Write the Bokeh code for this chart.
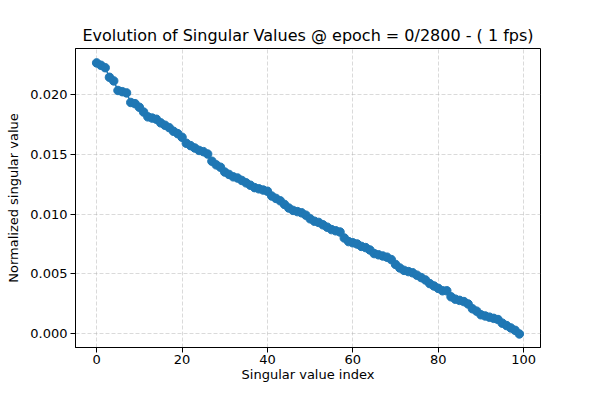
from bokeh.plotting import figure
from bokeh.models import Range1d, FixedTicker, NumeralTickFormatter
from bokeh.embed import file_html
from bokeh.resources import INLINE

title_text = "Evolution of Singular Values @ epoch = 0/2800 - ( 1 fps)"
x_label = "Singular value index"
y_label = "Normalized singular value"

indices = list(range(100))
values = [
    0.0226, 0.0224, 0.0222, 0.0214, 0.0211, 0.0203, 0.0202, 0.0201, 0.0193, 0.0192,
    0.0189, 0.0185, 0.0181, 0.0180, 0.0179, 0.0176, 0.0174, 0.0172, 0.0169, 0.0167,
    0.0164, 0.0159, 0.0157, 0.0155, 0.0153, 0.0152, 0.0150, 0.0144, 0.0141, 0.0139,
    0.0135, 0.0133, 0.0131, 0.0130, 0.0128, 0.0126, 0.0124, 0.0122, 0.0121, 0.0120,
    0.0119, 0.0115, 0.0113, 0.0111, 0.0108, 0.0105, 0.0103, 0.0102, 0.0101, 0.0099,
    0.0096, 0.0094, 0.0093, 0.0091, 0.0089, 0.0087, 0.0086, 0.0085, 0.0080, 0.0077,
    0.0076, 0.0075, 0.0073, 0.0072, 0.0070, 0.0067, 0.0066, 0.0065, 0.0064, 0.0062,
    0.0058, 0.0055, 0.0053, 0.0052, 0.0051, 0.0049, 0.0047, 0.0045, 0.0042, 0.0040,
    0.0038, 0.0036, 0.0036, 0.0031, 0.0029, 0.0028, 0.0027, 0.0025, 0.0021, 0.0019,
    0.0016, 0.0015, 0.0014, 0.0013, 0.0012, 0.0009, 0.0007, 0.0005, 0.0003, 0.0000,
]
x_ticks = [0, 20, 40, 60, 80, 100]
y_ticks = [0.0, 0.005, 0.010, 0.015, 0.020]

FONT = "DejaVu Sans"
BLUE = "#1f77b4"
X0, X1 = -4.95, 103.95

p = figure(width=584, height=384, output_backend="svg", toolbar_location=None,
           x_range=Range1d(X0, X1), y_range=Range1d(-0.00113, 0.0238),
           min_border_left=75, min_border_right=44, min_border_top=48, min_border_bottom=0)

p.title.text = title_text
p.title.align = "center"
p.title.text_font = FONT
p.title.text_font_size = "16px"
p.title.text_font_style = "normal"
p.title.text_color = "black"
p.title.standoff = 8

p.line(indices, values, line_color=BLUE, line_width=1.5)
p.scatter(indices, values, size=8.5, fill_color=BLUE, line_color=BLUE)

p.xaxis.ticker = FixedTicker(ticks=x_ticks)
p.yaxis.ticker = FixedTicker(ticks=y_ticks)
p.yaxis.formatter = NumeralTickFormatter(format="0.000")
p.xaxis.axis_label = x_label
p.yaxis.axis_label = y_label

for ax in (p.xaxis, p.yaxis):
    ax.axis_label_text_font = FONT
    ax.axis_label_text_font_size = "13px"
    ax.axis_label_text_font_style = "normal"
    ax.axis_label_text_color = "black"
    ax.major_label_text_font = FONT
    ax.major_label_text_font_size = "13px"
    ax.major_label_text_color = "black"
    ax.major_tick_in = 0
    ax.major_tick_out = 5
    ax.minor_tick_line_color = None
    ax.axis_line_color = "black"
    ax.major_tick_line_color = "black"
    ax.major_label_standoff = 3

p.xaxis.major_label_standoff = 2
p.xaxis.axis_label_standoff = 0
p.yaxis.axis_label_standoff = 6

p.grid.grid_line_color = "#b0b0b0"
p.grid.grid_line_alpha = 0.6
p.grid.grid_line_dash = "4 2"
p.grid.grid_line_width = 0.8

p.outline_line_color = "black"
p.outline_line_alpha = 1.0
p.outline_line_width = 1
p.background_fill_color = "white"
p.border_fill_color = "white"

open("out.html", "w").write(file_html(p, INLINE))
